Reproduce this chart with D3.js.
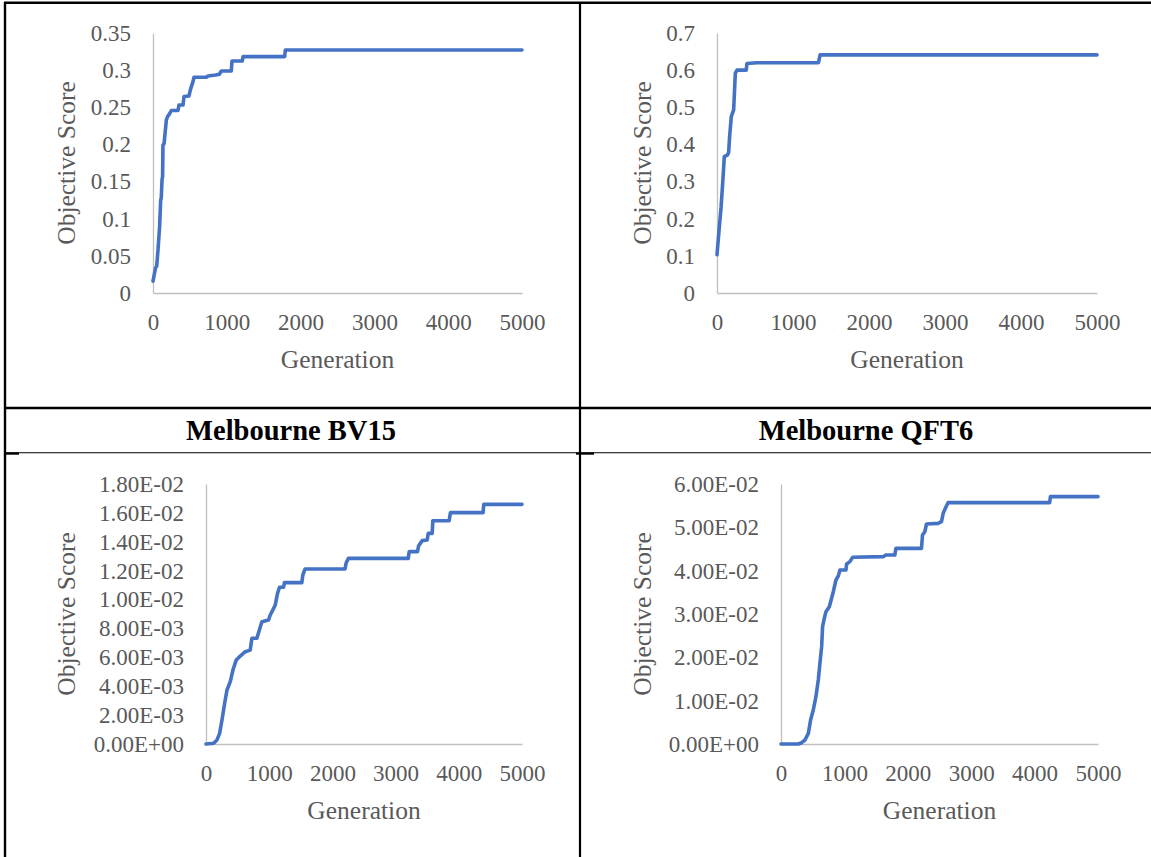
<!DOCTYPE html>
<html>
<head>
<meta charset="utf-8">
<script src="https://cdn.jsdelivr.net/npm/d3@7"></script>
<style>
  html, body { margin: 0; padding: 0; background: #fff; }
  svg { display: block; }
</style>
</head>
<body>
<svg id="fig" width="1151" height="857"></svg>
<script>
// ---- data: best objective score per generation, four runs ----
const generationTicks = [0, 1000, 2000, 3000, 4000, 5000];

const runAGen   = [0, 35, 50, 68, 90, 104, 112, 122, 130, 135, 150, 181, 200, 217, 248, 339, 352, 407, 420, 488, 506, 542, 556, 723, 745, 849, 900, 926, 1061, 1070, 1210, 1220, 1784, 1793, 5000];
const runAScore = [0.016, 0.034, 0.036, 0.058, 0.09, 0.125, 0.128, 0.152, 0.157, 0.199, 0.201, 0.233, 0.238, 0.240, 0.2456, 0.2456, 0.253, 0.253, 0.2644, 0.2653, 0.2734, 0.2846, 0.2904, 0.2904, 0.2922, 0.2935, 0.2945, 0.2989, 0.2989, 0.3123, 0.3123, 0.3182, 0.3182, 0.3271, 0.3271];
const runATicks = [0, 0.05, 0.1, 0.15, 0.2, 0.25, 0.3, 0.35];

const runBGen   = [0, 31, 53, 79, 96, 140, 153, 166, 188, 219, 241, 263, 385, 394, 525, 1335, 1357, 5000];
const runBScore = [0.103, 0.179, 0.229, 0.309, 0.367, 0.372, 0.378, 0.421, 0.475, 0.493, 0.592, 0.600, 0.600, 0.618, 0.620, 0.620, 0.641, 0.641];
const runBTicks = [0, 0.1, 0.2, 0.3, 0.4, 0.5, 0.6, 0.7];

const bv15Gen   = [0, 121, 174, 216, 253, 295, 332, 384, 426, 479, 542, 621, 700, 726, 805, 884, 989, 1016, 1058, 1095, 1132, 1163, 1226, 1242, 1516, 1532, 1568, 2200, 2216, 2253, 3200, 3216, 3347, 3363, 3421, 3500, 3516, 3579, 3589, 3847, 3868, 4384, 4395, 5000];
const bv15Score = [0, 0.00005, 0.00028, 0.00074, 0.00166, 0.00282, 0.00374, 0.00432, 0.00512, 0.00582, 0.00609, 0.00639, 0.0065, 0.00732, 0.00732, 0.00847, 0.00858, 0.00893, 0.00928, 0.00962, 0.01043, 0.01085, 0.01085, 0.01117, 0.01117, 0.0117, 0.01212, 0.01212, 0.01251, 0.01285, 0.01285, 0.01332, 0.01332, 0.01371, 0.01408, 0.01412, 0.01458, 0.01458, 0.01546, 0.01546, 0.01602, 0.01602, 0.01659, 0.01659];
const bv15Ticks = [0, 0.002, 0.004, 0.006, 0.008, 0.01, 0.012, 0.014, 0.016, 0.018];

const qft6Gen   = [0, 273, 326, 378, 431, 467, 509, 551, 588, 614, 641, 656, 677, 709, 762, 798, 825, 867, 903, 930, 1024, 1035, 1087, 1129, 1612, 1654, 1796, 1812, 2216, 2232, 2269, 2295, 2479, 2531, 2558, 2600, 2636, 4238, 4249, 5000];
const qft6Score = [0, 0, 0.0003, 0.00092, 0.00246, 0.00554, 0.00785, 0.01092, 0.01477, 0.01862, 0.02246, 0.02708, 0.02862, 0.03054, 0.03169, 0.03362, 0.03515, 0.03785, 0.03877, 0.04015, 0.04015, 0.04154, 0.04208, 0.04308, 0.04323, 0.04362, 0.04362, 0.04515, 0.04515, 0.04823, 0.049, 0.05077, 0.05092, 0.05131, 0.05323, 0.05462, 0.0557, 0.0557, 0.05708, 0.05708];
const qft6Ticks = [0, 0.01, 0.02, 0.03, 0.04, 0.05, 0.06];

const cellTitles = ["Melbourne BV15", "Melbourne QFT6"];

// ---- formatting ----
const fmtGeneral = v => String(v);
const fmtSci = v => v.toExponential(2).toUpperCase().replace(/E([+-])(\d)$/, "E$10$2");

const svg = d3.select("#fig");
const INK = "#595959";
const SERIF = "'Liberation Serif', 'Times New Roman', serif";

// ---- table frame ----
const frame = svg.append("g").attr("stroke", "#000").attr("fill", "none");
[
  { x1: 4,   y1: 2.8,   x2: 1151, y2: 2.8,   w: 2.4 },
  { x1: 5,   y1: 2,     x2: 5,    y2: 857,   w: 2.4 },
  { x1: 580, y1: 2,     x2: 580,  y2: 857,   w: 2.2 },
  { x1: 4,   y1: 408,   x2: 1151, y2: 408,   w: 2.4 },
  { x1: 4,   y1: 452.8, x2: 1151, y2: 452.8, w: 1.1 },
  { x1: 6,   y1: 453.6, x2: 19,   y2: 453.6, w: 2.2 },
  { x1: 576, y1: 453.6, x2: 594,  y2: 453.6, w: 2.2 }
].forEach(s => frame.append("line")
  .attr("x1", s.x1).attr("y1", s.y1).attr("x2", s.x2).attr("y2", s.y2)
  .attr("stroke-width", s.w));

// ---- cell titles ----
svg.selectAll("text.cell-title")
  .data(cellTitles)
  .join("text")
  .attr("class", "cell-title")
  .attr("x", (d, i) => i === 0 ? 291 : 866)
  .attr("y", 439.5)
  .attr("text-anchor", "middle")
  .attr("font-family", SERIF)
  .attr("font-weight", "bold")
  .attr("font-size", 28.5)
  .attr("fill", "#000")
  .text(d => d);

// ---- one chart per cell ----
function drawPanel(cfg) {
  const x = d3.scaleLinear().domain([0, 5000]).range([cfg.left, cfg.right]);
  const y = d3.scaleLinear().domain([0, cfg.yMax]).range([cfg.bottom, cfg.top]);
  const g = svg.append("g");

  const yAxis = d3.axisLeft(y).tickValues(cfg.ticks).tickFormat(cfg.fmt)
    .tickSize(0).tickSizeOuter(0).tickPadding(22);
  const xAxis = d3.axisBottom(x).tickValues(generationTicks).tickFormat(fmtGeneral)
    .tickSize(0).tickSizeOuter(0).tickPadding(21);

  const ya = g.append("g").attr("transform", `translate(${cfg.left},0)`).call(yAxis);
  const xa = g.append("g").attr("transform", `translate(0,${cfg.bottom})`).call(xAxis);
  [ya, xa].forEach(a => {
    a.attr("font-family", SERIF).attr("font-size", 23);
    a.select(".domain").attr("stroke", "#bfbfbf").attr("stroke-width", 1.3);
    a.selectAll(".tick text").attr("fill", INK);
  });

  // axis titles
  g.append("text")
    .attr("x", (cfg.left + cfg.right) / 2)
    .attr("y", cfg.bottom + 75)
    .attr("text-anchor", "middle")
    .attr("font-family", SERIF).attr("font-size", 25.5).attr("fill", INK)
    .text("Generation");
  g.append("text")
    .attr("transform", `translate(${cfg.yTitleX},${(cfg.top + cfg.bottom) / 2}) rotate(-90)`)
    .attr("text-anchor", "middle")
    .attr("font-family", SERIF).attr("font-size", 25.5).attr("fill", INK)
    .text("Objective Score");

  // best-score trace
  const pts = cfg.gen.map((v, i) => [v, cfg.score[i]]);
  g.append("path")
    .datum(pts)
    .attr("fill", "none")
    .attr("stroke", "#4472C4")
    .attr("stroke-width", 3.6)
    .attr("stroke-linejoin", "round")
    .attr("stroke-linecap", "round")
    .attr("d", d3.line().x(d => x(d[0])).y(d => y(d[1])));
}

drawPanel({ gen: runAGen, score: runAScore, ticks: runATicks, yMax: 0.35, fmt: fmtGeneral,
  left: 153, right: 522, top: 33, bottom: 293, yTitleX: 75 });
drawPanel({ gen: runBGen, score: runBScore, ticks: runBTicks, yMax: 0.7, fmt: fmtGeneral,
  left: 717, right: 1097, top: 33, bottom: 293, yTitleX: 651 });
drawPanel({ gen: bv15Gen, score: bv15Score, ticks: bv15Ticks, yMax: 0.018, fmt: fmtSci,
  left: 206, right: 522, top: 484, bottom: 744, yTitleX: 75 });
drawPanel({ gen: qft6Gen, score: qft6Score, ticks: qft6Ticks, yMax: 0.06, fmt: fmtSci,
  left: 781, right: 1098, top: 484, bottom: 744, yTitleX: 651 });
</script>
</body>
</html>
